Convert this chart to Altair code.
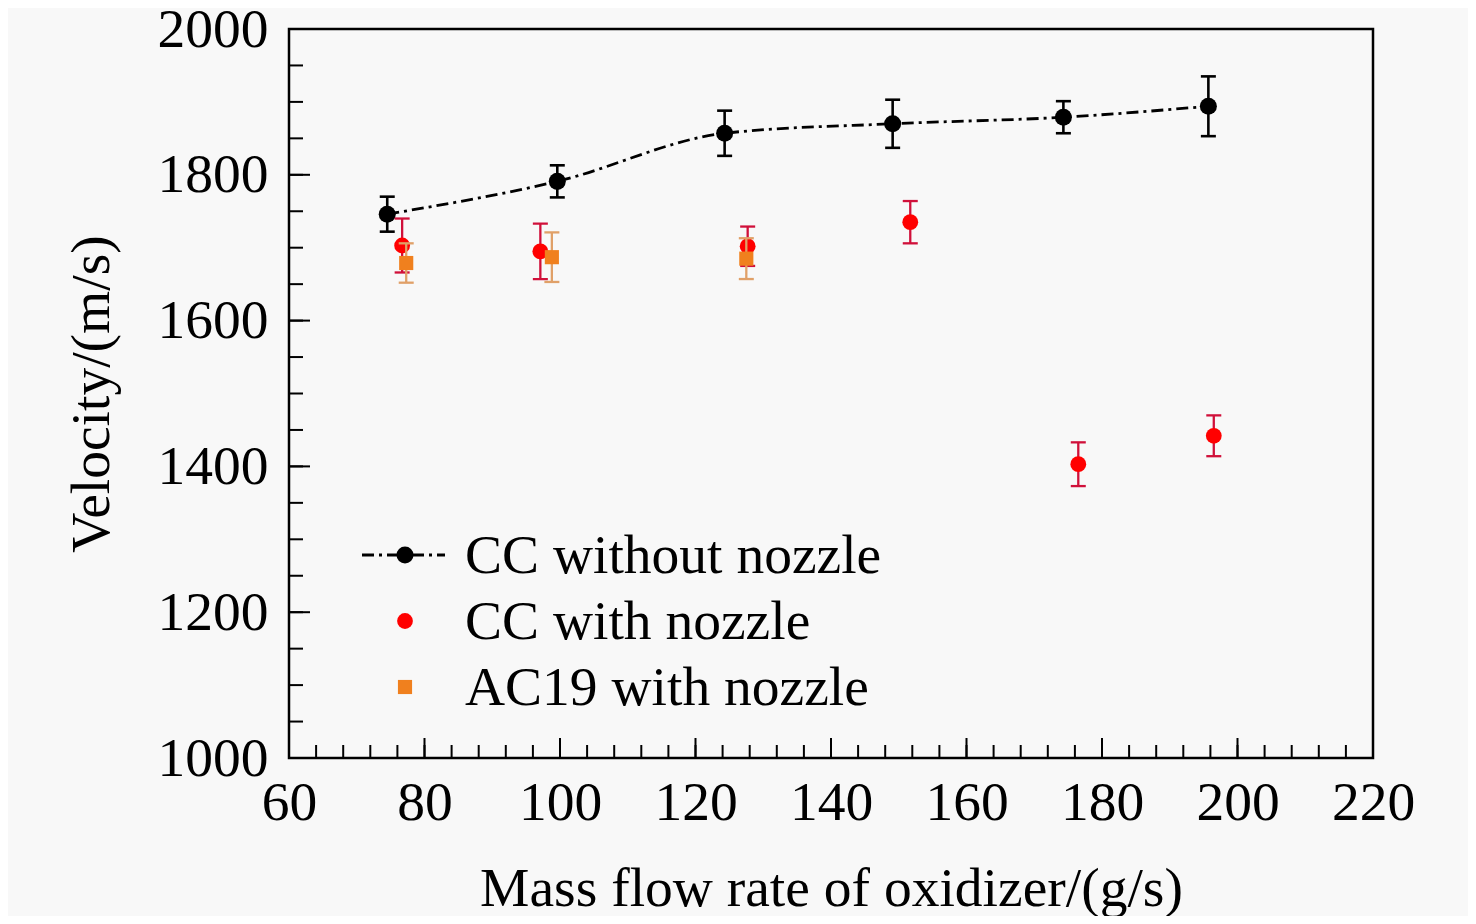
import altair as alt
import pandas as pd

# ---------------- data ----------------
x_cc_wo = [74.5, 99.6, 124.3, 149.1, 174.3, 195.7]
v_cc_wo = [1746, 1791, 1857, 1870, 1879, 1894]
e_cc_wo = [24, 22, 31, 33, 22, 41]

x_cc_w = [76.7, 97.1, 127.7, 151.7, 176.5, 196.5]
v_cc_w = [1703, 1695, 1702, 1735, 1403, 1442]
e_cc_w = [37, 38, 27, 29, 30, 28]

x_ac = [77.3, 98.8, 127.5]
v_ac = [1679, 1687, 1685]
e_ac = [27, 34, 28]

legend_labels = ["CC without nozzle", "CC with nozzle", "AC19 with nozzle"]

x_major = [60, 80, 100, 120, 140, 160, 180, 200, 220]
x_minor = list(range(64, 220, 4))
y_major = [1000, 1200, 1400, 1600, 1800, 2000]
y_minor = list(range(1050, 2000, 50))

# ---------------- style ----------------
W, H = 1084, 729
FONT = "Liberation Serif"
FS = 55.5
BLACK = "#000000"
RED = "#ff0000"
RED_ERR = "#d0103a"
ORANGE = "#f0801e"
ORANGE_ERR = "#e0a068"
DASH = [12, 5, 3, 5]


def frame(x, v, e):
    return pd.DataFrame({
        "x": x, "v": v,
        "lo": [a - b for a, b in zip(v, e)],
        "hi": [a + b for a, b in zip(v, e)],
    })


xs = alt.Scale(domain=[60, 220], nice=False, zero=False)
ys = alt.Scale(domain=[1000, 2000], nice=False, zero=False)

x_axis = alt.Axis(values=x_major, format="d", ticks=False, tickSize=0, domain=False, grid=False,
                  labelFlush=False, labelOverlap=False, labelBound=False,
                  labelFont=FONT, labelFontSize=FS, labelColor=BLACK, labelPadding=17,
                  title="Mass flow rate of oxidizer/(g/s)", titleFont=FONT, titleFontSize=FS,
                  titleFontWeight="normal", titleColor=BLACK, titleX=W / 2, titleY=147,
                  titleBaseline="alphabetic", titleAlign="center")
y_axis = alt.Axis(values=y_major, format="d", ticks=False, tickSize=0, domain=False, grid=False,
                  labelFlush=False, labelOverlap=False, labelBound=False,
                  labelFont=FONT, labelFontSize=FS, labelColor=BLACK, labelPadding=21,
                  title="Velocity/(m/s)", titleFont=FONT, titleFontSize=FS,
                  titleFontWeight="normal", titleColor=BLACK, titleX=-181, titleY=H / 2,
                  titleAngle=270, titleBaseline="alphabetic", titleAlign="center")


def X(f):
    return alt.X(f, type="quantitative", scale=xs, axis=x_axis)


def Y(f):
    return alt.Y(f, type="quantitative", scale=ys, axis=y_axis)


layers = []

# ticks (inward)
tx_major = pd.DataFrame({"t": x_major})
tx_minor = pd.DataFrame({"t": x_minor})
ty_major = pd.DataFrame({"t": y_major})
ty_minor = pd.DataFrame({"t": y_minor})
layers.append(alt.Chart(tx_major).mark_rule(color=BLACK, strokeWidth=2).encode(
    x=X("t"), y=alt.value(H), y2=alt.value(H - 20)))
layers.append(alt.Chart(tx_minor).mark_rule(color=BLACK, strokeWidth=2).encode(
    x=X("t"), y=alt.value(H), y2=alt.value(H - 13)))
layers.append(alt.Chart(ty_major).mark_rule(color=BLACK, strokeWidth=2).encode(
    y=Y("t"), x=alt.value(0), x2=alt.value(21)))
layers.append(alt.Chart(ty_minor).mark_rule(color=BLACK, strokeWidth=2).encode(
    y=Y("t"), x=alt.value(0), x2=alt.value(14)))


def series(df, color, err_color, shape, size, ew):
    out = []
    out.append(alt.Chart(df).mark_rule(color=err_color, strokeWidth=ew).encode(
        x=X("x"), y=Y("lo"), y2="hi"))
    for f in ("lo", "hi"):
        out.append(alt.Chart(df).mark_tick(color=err_color, orient="horizontal",
                                           size=15, thickness=ew, opacity=1).encode(
            x=X("x"), y=Y(f)))
    out.append(alt.Chart(df).mark_point(shape=shape, filled=True, size=size,
                                        color=color, opacity=1).encode(
        x=X("x"), y=Y("v")))
    return out


d1 = frame(x_cc_wo, v_cc_wo, e_cc_wo)
d2 = frame(x_cc_w, v_cc_w, e_cc_w)
d3 = frame(x_ac, v_ac, e_ac)

layers.append(alt.Chart(d1).mark_line(color=BLACK, strokeWidth=2.8, strokeDash=DASH,
                                      interpolate="monotone").encode(x=X("x"), y=Y("v")))
layers += series(d1, BLACK, BLACK, "circle", 290, 2.6)
layers += series(d2, RED, RED_ERR, "circle", 250, 2.3)
layers += series(d3, ORANGE, ORANGE_ERR, "square", 200, 2.3)

# legend
leg_y = [526, 592, 658]
leg_base = [544, 610, 676]
leg_colors = [BLACK, RED, ORANGE]
leg_shapes = ["circle", "circle", "square"]
leg_sizes = [290, 250, 200]
one = pd.DataFrame({"a": [0]})
layers.append(alt.Chart(one).mark_rule(color=BLACK, strokeWidth=2.8, strokeDash=DASH).encode(
    x=alt.value(73), x2=alt.value(156), y=alt.value(leg_y[0])))
for i, lab in enumerate(legend_labels):
    layers.append(alt.Chart(pd.DataFrame({"label": [lab]})).mark_point(
        shape=leg_shapes[i], filled=True, size=leg_sizes[i], color=leg_colors[i], opacity=1).encode(
        x=alt.value(116), y=alt.value(leg_y[i])))
    layers.append(alt.Chart(pd.DataFrame({"label": [lab]})).mark_text(
        font=FONT, fontSize=FS, color=BLACK, align="left", baseline="alphabetic").encode(
        x=alt.value(176), y=alt.value(leg_base[i]), text="label:N"))

chart = alt.layer(*layers).properties(
    width=W, height=H,
    padding={"left": 281, "top": 21, "right": 95, "bottom": 158},
    autosize=alt.AutoSizeParams(type="none"),
    background="#f8f8f8",
).configure_view(stroke=BLACK, strokeWidth=2.5)

chart.save("out.html", embed_options={"renderer": "svg", "actions": False})
